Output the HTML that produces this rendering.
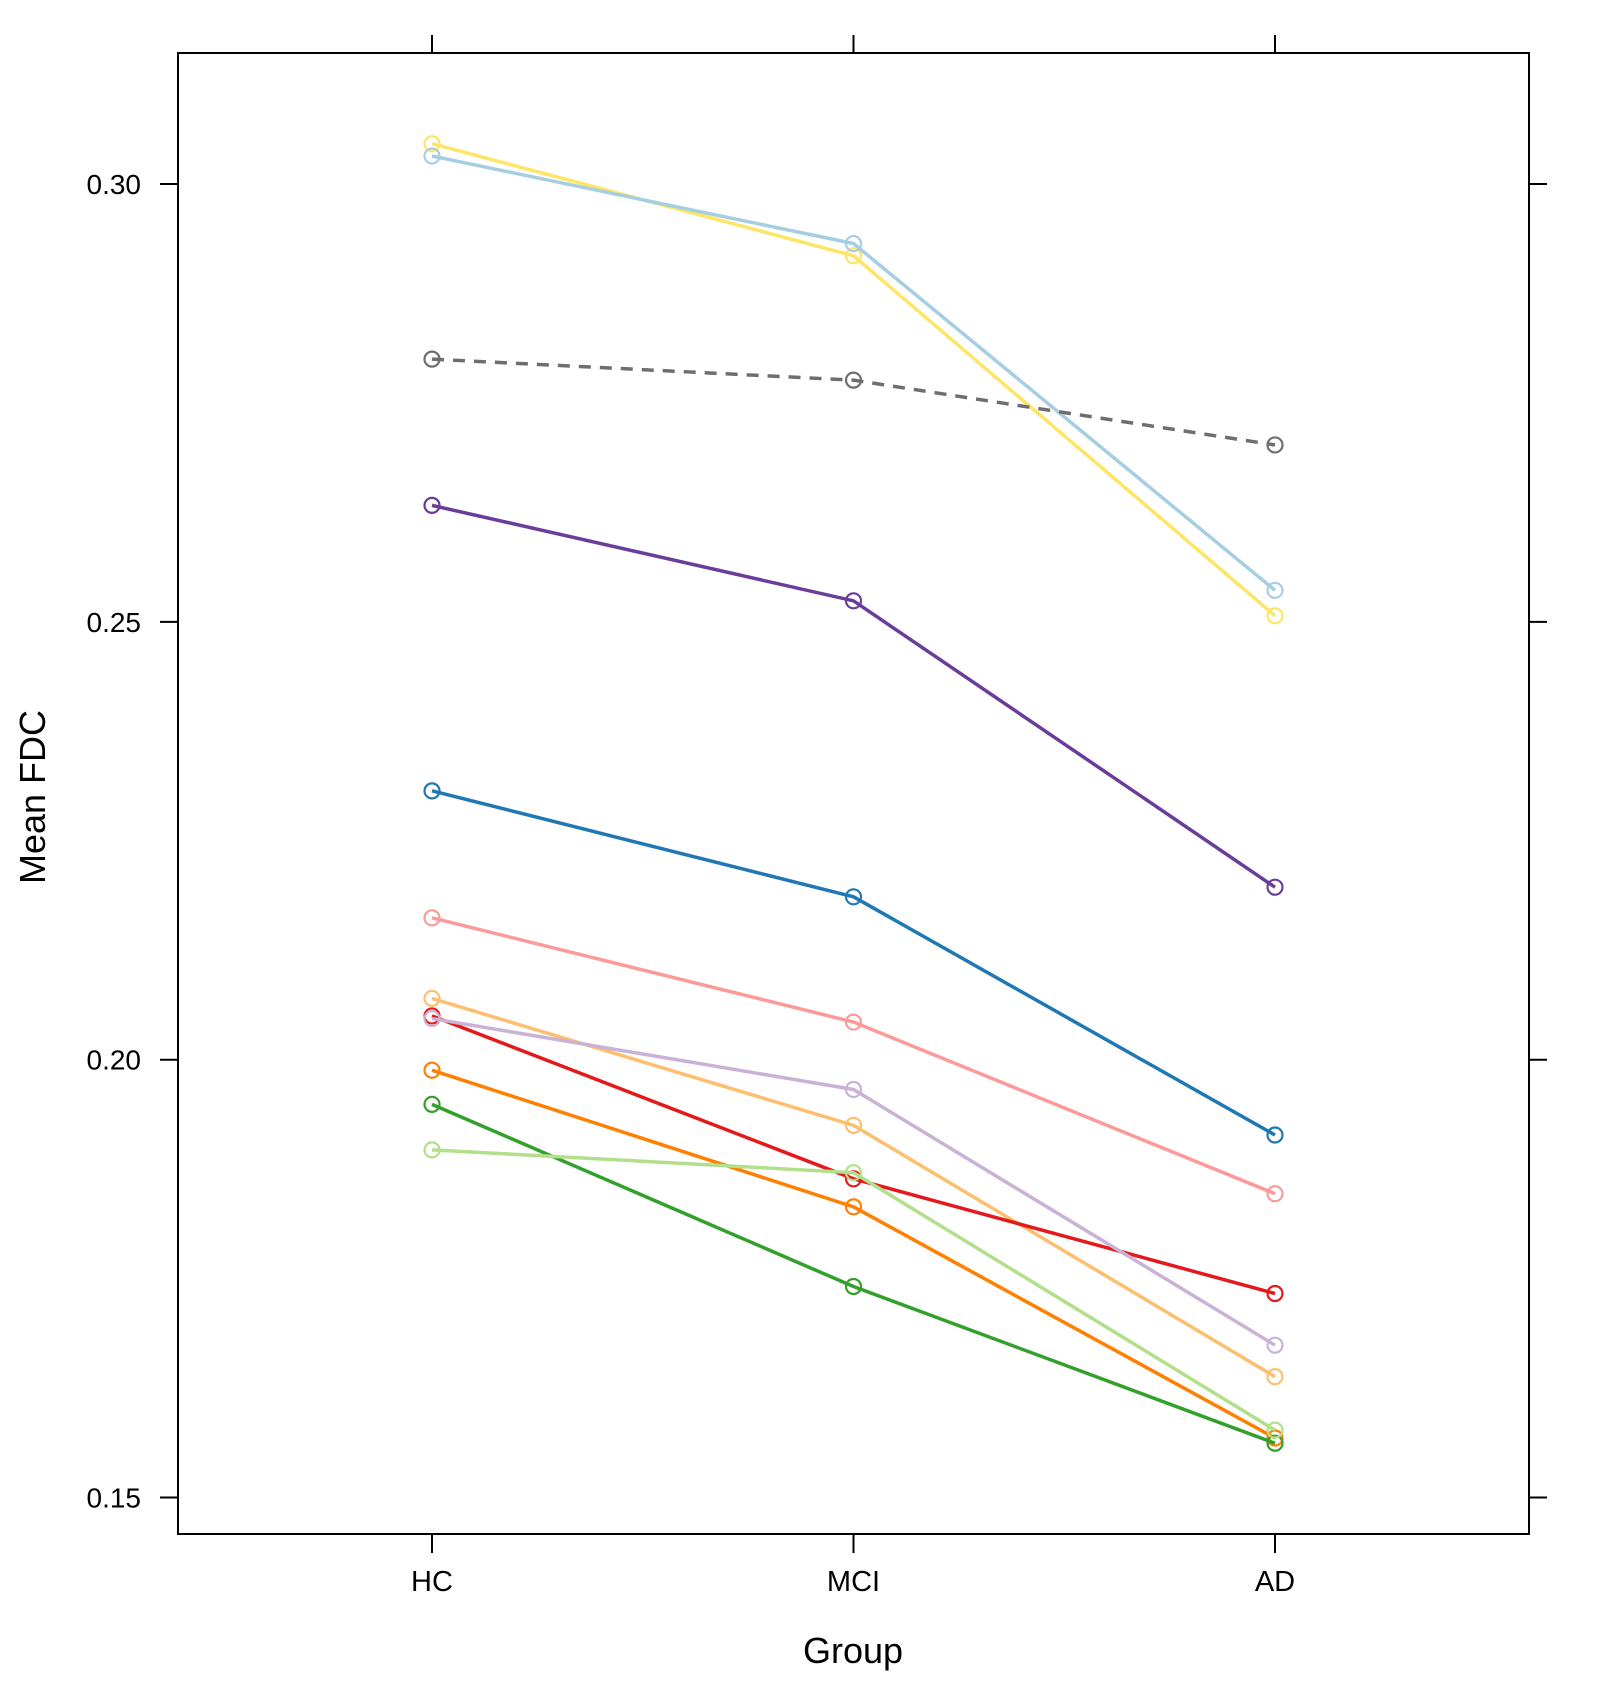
<!DOCTYPE html>
<html><head><meta charset="utf-8"><style>
html,body{margin:0;padding:0;background:#fff;}
svg{display:block;font-family:"Liberation Sans",Arial,sans-serif;}
</style></head><body>
<svg id="chart" width="1621" height="1704" viewBox="0 0 1621 1704">
<g id="marks"></g>
</svg>
<script>
const groups = ["HC","MCI","AD"];
const yTicks = [0.15,0.20,0.25,0.30];
const yTickLabels = ["0.15","0.20","0.25","0.30"];
const seriesNames = ["s-yellow","s-lightblue","s-mean","s-purple","s-blue","s-pink","s-lightorange","s-red","s-lavender","s-orange","s-green","s-lightgreen"];
const seriesColors = ["#FFE566","#A6CEE3","#6E6E6E","#6A3D9A","#1F78B4","#FB9A99","#FDBF6F","#E31A1C","#CAB2D6","#FF7F00","#33A02C","#B2DF8A"];
const sYellow = [0.3046,0.2918,0.2507];
const sLightblue = [0.3032,0.2932,0.2536];
const sMean = [0.2800,0.2776,0.2702];
const sPurple = [0.2633,0.2524,0.2197];
const sBlue = [0.2307,0.2186,0.1914];
const sPink = [0.2162,0.2043,0.1847];
const sLightorange = [0.2070,0.1925,0.1638];
const sRed = [0.2050,0.1864,0.1733];
const sLavender = [0.2047,0.1966,0.1674];
const sOrange = [0.1988,0.1832,0.1568];
const sGreen = [0.1949,0.1741,0.1562];
const sLightgreen = [0.1897,0.1871,0.1577];
const allSeries = [sYellow,sLightblue,sMean,sPurple,sBlue,sPink,sLightorange,sRed,sLavender,sOrange,sGreen,sLightgreen];

const NS="http://www.w3.org/2000/svg";
const svg=document.getElementById('chart');
const L=178,R=1529,T=53,B=1534;
function xs(i){return 432+i*421.5;}
function ys(v){return 184+(0.30-v)*8757;}
function mk(tag,attrs,parent){const e=document.createElementNS(NS,tag);for(const k in attrs)e.setAttribute(k,attrs[k]);(parent||svg).appendChild(e);return e;}

const box=mk('rect',{x:L,y:T,width:R-L,height:B-T,fill:'none',stroke:'#000','stroke-width':2});



groups.forEach((g,i)=>{
  const x=xs(i);
  const t1=mk('line',{x1:x,y1:T,x2:x,y2:T-18,stroke:'#000','stroke-width':2});
  
  
  const t2=mk('line',{x1:x,y1:B,x2:x,y2:B+19,stroke:'#000','stroke-width':2});
  
  
  const tx=mk('text',{x:x,y:1591,'text-anchor':'middle','font-size':29,fill:'#000'});
  tx.textContent=g;
  
  
});
yTicks.forEach((v,i)=>{
  const y=ys(v);
  const t1=mk('line',{x1:L-18,y1:y,x2:L,y2:y,stroke:'#000','stroke-width':2});
  
  
  const t2=mk('line',{x1:R,y1:y,x2:R+18,y2:y,stroke:'#000','stroke-width':2});
  
  
  const tx=mk('text',{x:141,y:y+10,'text-anchor':'end','font-size':28,fill:'#000'});
  tx.textContent=yTickLabels[i];
  
  
});
const xt=mk('text',{x:853,y:1663,'text-anchor':'middle','font-size':36,fill:'#000'});
xt.textContent='Group';


const yt=mk('text',{x:0,y:0,'text-anchor':'middle','font-size':36,fill:'#000',transform:'translate(45,797) rotate(-90)'});
yt.textContent='Mean FDC';



const marks=document.getElementById('marks');
svg.appendChild(marks);
allSeries.forEach((vals,si)=>{
  const g=mk('g',{},marks);
  
  
  const pts=vals.map((v,i)=>xs(i)+','+ys(v)).join(' ');
  const attrs={points:pts,fill:'none',stroke:seriesColors[si],'stroke-width':3.5};
  if(si===2)attrs['stroke-dasharray']='12,9';
  const pl=mk('polyline',attrs,g);
  
  
  vals.forEach((v,i)=>{
    const c=mk('circle',{cx:xs(i),cy:ys(v),r:7.5,fill:'none',stroke:seriesColors[si],'stroke-width':2.2},g);
    
    
  });
});
</script>
</body></html>
